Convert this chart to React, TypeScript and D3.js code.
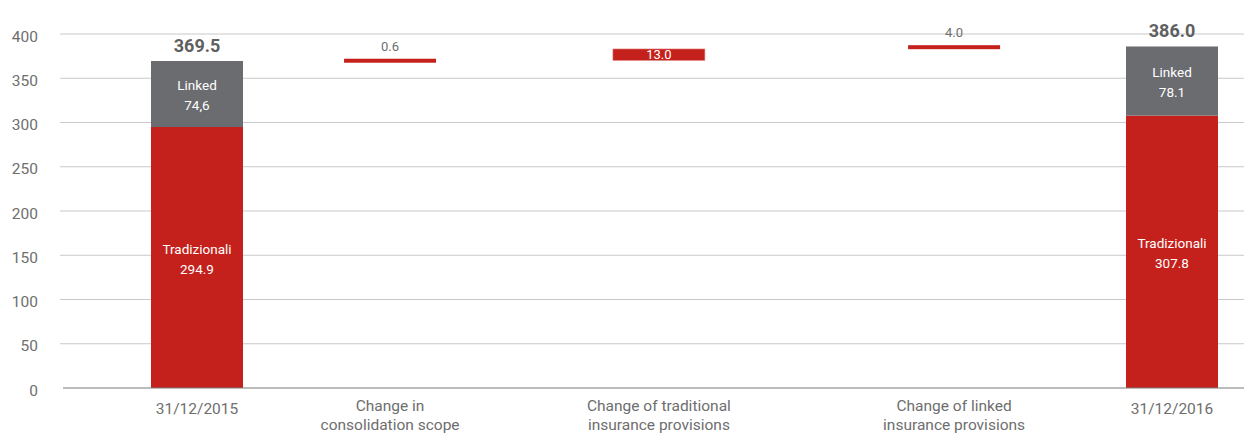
import React from "react";
import * as d3 from "d3";

// ---- data ----
const categories = [
  "31/12/2015",
  "Change in consolidation scope",
  "Change of traditional insurance provisions",
  "Change of linked insurance provisions",
  "31/12/2016",
];
const categoryLines = [
  ["31/12/2015"],
  ["Change in", "consolidation scope"],
  ["Change of traditional", "insurance provisions"],
  ["Change of linked", "insurance provisions"],
  ["31/12/2016"],
];
const kinds = ["total", "delta", "delta", "delta", "total"];
const traditionalValues = [294.9, 0, 0, 0, 307.8];
const traditionalLabels = ["294.9", "", "", "", "307.8"];
const linkedValues = [74.6, 0, 0, 0, 78.1];
const linkedLabels = ["74,6", "", "", "", "78.1"];
const totalLabels = ["369.5", "", "", "", "386.0"];
const deltaValues = [0, 0.6, 13.0, 4.0, 0];
const deltaLabels = ["", "0.6", "13.0", "4.0", ""];
const yTicks = [0, 50, 100, 150, 200, 250, 300, 350, 400];

// layout: relative slot position of each category along the axis
const slotPositions = [0, 0.792, 1.895, 3.106, 4];

const W = 1244;
const H = 434;
const RED = "#c4211c";
const GREY = "#6b6c70";
const TEXT = "#6e6e6e";
const FONT = "Roboto, 'Liberation Sans', Arial, sans-serif";

export default function App() {
  const y = d3.scaleLinear().domain([0, 400]).range([388, 34]);
  const slot = d3.scaleLinear().domain([0, 4]).range([197, 1172]);
  const xc = (i: number) => slot(slotPositions[i]);
  const bw = 92;

  // running totals for waterfall
  let running = traditionalValues[0] + linkedValues[0];
  const floats = deltaValues.map((d, i) => {
    if (kinds[i] !== "delta") return null;
    const start = running;
    const end = running + d;
    running = end;
    return { start, end, d };
  });

  return (
    <svg
      width={W}
      height={H}
      style={{ position: "absolute", left: 0, top: 0, display: "block", background: "#fff" }}
      fontFamily={FONT}
    >
      {/* gridlines */}
      {yTicks.map((t) =>
        t === 0 ? null : (
          <line key={"g" + t} x1={60} x2={W} y1={y(t)} y2={y(t)} stroke="#c9c9c9" strokeWidth={1} />
        )
      )}
      {/* y tick labels */}
      {yTicks.map((t) => (
        <text key={"t" + t} x={38} y={y(t) + 7.5} textAnchor="end" fontSize={15.5} fill={TEXT}>
          {t}
        </text>
      ))}

      {/* bars */}
      {categories.map((c, i) => {
        const cx = xc(i);
        const x0 = cx - bw / 2;
        if (kinds[i] === "total") {
          const trad = traditionalValues[i];
          const lnk = linkedValues[i];
          const yTrad = y(trad);
          const yTop = y(trad + lnk);
          const tradMid = (y(0) + yTrad) / 2;
          const lnkMid = (yTrad + yTop) / 2;
          return (
            <g key={c}>
              <rect x={x0} y={yTrad} width={bw} height={y(0) - yTrad} fill={RED} />
              <rect x={x0} y={yTop} width={bw} height={yTrad - yTop} fill={GREY} />
              <text x={cx} y={lnkMid - 4} textAnchor="middle" fontSize={13.5} fill="#fff">Linked</text>
              <text x={cx} y={lnkMid + 16} textAnchor="middle" fontSize={13.5} fill="#fff">{linkedLabels[i]}</text>
              <text x={cx} y={tradMid - 4} textAnchor="middle" fontSize={13.5} fill="#fff">Tradizionali</text>
              <text x={cx} y={tradMid + 16} textAnchor="middle" fontSize={13.5} fill="#fff">{traditionalLabels[i]}</text>
              <text x={cx} y={yTop - 9} textAnchor="middle" fontSize={18} fontWeight="bold" fill="#5f5f5f">
                {totalLabels[i]}
              </text>
            </g>
          );
        }
        const f = floats[i]!;
        let yt = y(f.end);
        let h = y(f.start) - y(f.end);
        if (h < 4) {
          const mid = yt + h / 2;
          yt = mid - 2;
          h = 4;
        }
        const inside = f.d >= 10;
        return (
          <g key={c}>
            <rect x={x0} y={yt} width={bw} height={h} fill={RED} stroke={inside ? "#e48a86" : "none"} strokeWidth={inside ? 0.6 : 0} />
            {inside ? (
              <text x={cx} y={yt + h / 2 + 4.5} textAnchor="middle" fontSize={13} fill="#fff">{deltaLabels[i]}</text>
            ) : (
              <text x={cx} y={yt - 8} textAnchor="middle" fontSize={13} fill={TEXT}>{deltaLabels[i]}</text>
            )}
          </g>
        );
      })}

      {/* zero axis line */}
      <line x1={63} x2={W} y1={y(0)} y2={y(0)} stroke="#7a7a7a" strokeWidth={1.2} />

      {/* x labels */}
      {categoryLines.map((lines, i) =>
        lines.length === 1 ? (
          <text key={"x" + i} x={xc(i)} y={414} textAnchor="middle" fontSize={15.5} fill={TEXT}>
            {lines[0]}
          </text>
        ) : (
          <text key={"x" + i} x={xc(i)} y={411} textAnchor="middle" fontSize={15.5} fill={TEXT}>
            {lines.map((l, k) => (
              <tspan key={k} x={xc(i)} dy={k === 0 ? 0 : 19}>
                {l}
              </tspan>
            ))}
          </text>
        )
      )}
    </svg>
  );
}
